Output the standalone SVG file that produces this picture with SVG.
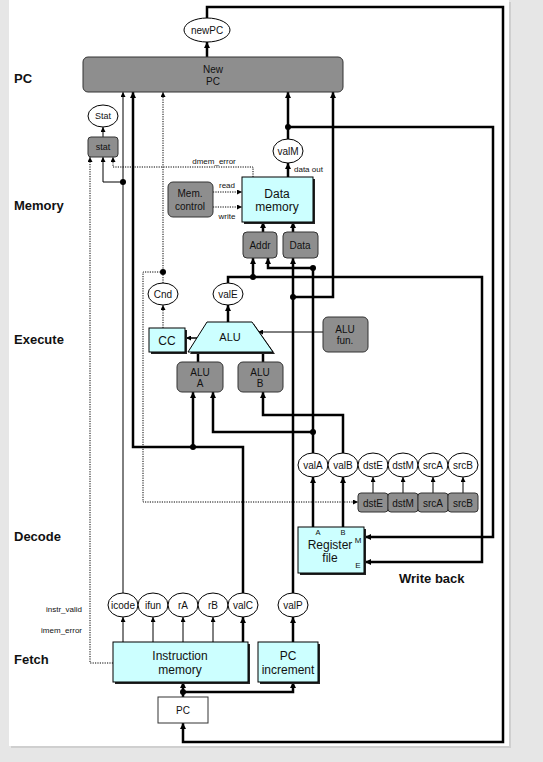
<svg xmlns="http://www.w3.org/2000/svg" width="543" height="762" viewBox="0 0 543 762">
<defs>
<marker id="a" viewBox="0 0 10 10" refX="10" refY="5" markerWidth="5" markerHeight="5" markerUnits="userSpaceOnUse" orient="auto"><path d="M0,0 L10,5 L0,10 z" fill="#000"/></marker>
<marker id="b" viewBox="0 0 10 10" refX="10" refY="5" markerWidth="6" markerHeight="6" markerUnits="userSpaceOnUse" orient="auto"><path d="M0,0 L10,5 L0,10 z" fill="#000"/></marker>
</defs>
<style>
text{font-family:"Liberation Sans",Arial,sans-serif;fill:#111;text-anchor:middle}
.stage{font-weight:bold;font-size:13px;text-anchor:start}
.t7{font-size:7.5px}.t8{font-size:8px}.t9{font-size:9px}.t10{font-size:10px}.t11{font-size:11px}.t12{font-size:12px}
.grey{fill:#8e8e8e;stroke:#333;stroke-width:1}
.cyan{fill:#ccffff;stroke:#000;stroke-width:1}
.sh{fill:#222}
.ell{fill:#fff;stroke:#000;stroke-width:1}
.thick{fill:none;stroke:#000;stroke-width:2.5;marker-end:url(#b)}
.thickn{fill:none;stroke:#000;stroke-width:2.5}
.thin{fill:none;stroke:#000;stroke-width:1;marker-end:url(#a)}
.med{fill:none;stroke:#000;stroke-width:1.5;marker-end:url(#a)}
.dot{fill:none;stroke:#000;stroke-width:1;stroke-dasharray:1.2,1.2;marker-end:url(#a)}
.jn{fill:#000}
</style>
<rect x="0" y="0" width="543" height="762" fill="#e6e6e6"/>
<rect x="11" y="2" width="500" height="746" fill="#cfcfcf"/>
<rect x="9" y="0" width="500" height="746" fill="#fff"/>

<g id="stages">
<text class="stage" x="14" y="83">PC</text>
<text class="stage" x="14" y="210">Memory</text>
<text class="stage" x="14" y="344">Execute</text>
<text class="stage" x="14" y="541">Decode</text>
<text class="stage" x="14" y="664">Fetch</text>
<text class="stage" x="399" y="583">Write back</text>
<text class="t8" x="82" y="612" style="text-anchor:end">instr_valid</text>
<text class="t8" x="82" y="633" style="text-anchor:end">imem_error</text>
<text class="t8" x="214" y="164">dmem_error</text>
<text class="t8" x="227" y="188">read</text>
<text class="t8" x="227" y="219">write</text>
<text class="t8" x="294" y="172" style="text-anchor:start">data out</text>
</g>

<g id="connectors">
<path class="thick" d="M207,18 L207,7 L503,7 L503,742 L183,742 L183,723"/>
<path class="thick" d="M207,57 L207,42"/>
<path class="thick" d="M288,139 L288,92"/>
<path class="thick" d="M288,127 L493,127 L493,537 L365,537"/>
<path class="thick" d="M288,177 L288,163"/>
<path class="thick" d="M243,593 L243,447 L133,447 L133,92"/>
<path class="thick" d="M193,447 L193,392"/>
<path class="thick" d="M243,642 L243,617"/>
<path class="thick" d="M313,453 L313,268 L268,268 L268,258"/>
<path class="thick" d="M313,432 L213,432 L213,392"/>
<path class="thick" d="M313,527 L313,477"/>
<path class="thick" d="M343,453 L343,415 L263,415 L263,392"/>
<path class="thick" d="M343,527 L343,477"/>
<path class="thick" d="M293,593 L293,258"/>
<path class="thick" d="M293,297 L333,297 L333,92"/>
<path class="thick" d="M293,642 L293,617"/>
<path class="thick" d="M228,283 L228,277 L482,277 L482,562 L365,562"/>
<path class="thick" d="M253,277 L253,258"/>
<path class="thick" d="M228,322 L228,305"/>
<path class="thick" d="M263,232 L263,222"/>
<path class="thick" d="M293,232 L293,222"/>
<path class="thickn" d="M198,362 L198,352 M263,362 L263,352"/>
<path class="thick" d="M183,697 L183,682"/>
<path class="thick" d="M183,692 L293,692 L293,682"/>
<path class="med" d="M199,338 L186,338"/>
<path class="thin" d="M123,593 L123,92"/>
<path class="thin" d="M123,182 L103,182 L103,157"/>
<path class="thin" d="M103,137 L103,127"/>
<path class="thin" d="M123,642 L123,617"/>
<path class="thin" d="M153,642 L153,617"/>
<path class="thin" d="M183,642 L183,617"/>
<path class="thin" d="M213,642 L213,617"/>
<path class="thin" d="M323,332 L258,332"/>
<path class="thin" d="M373,493 L373,477"/>
<path class="thin" d="M403,493 L403,477"/>
<path class="thin" d="M433,493 L433,477"/>
<path class="thin" d="M463,493 L463,477"/>
<path class="dot" d="M163,328 L163,305"/>
<path class="dot" d="M163,283 L163,92"/>
<path class="dot" d="M163,272 L143,272 L143,502 L358,502"/>
<path class="dot" d="M253,177 L253,167 L113,167 L113,157"/>
<path class="dot" d="M213,192 L242,192"/>
<path class="dot" d="M213,207 L242,207"/>
<path class="dot" d="M113,663 L90,663 L90,157"/>
<circle class="jn" cx="288" cy="127" r="3"/>
<circle class="jn" cx="193" cy="447" r="3"/>
<circle class="jn" cx="313" cy="432" r="3"/>
<circle class="jn" cx="313" cy="268" r="3"/>
<circle class="jn" cx="293" cy="297" r="3"/>
<circle class="jn" cx="253" cy="277" r="3"/>
<circle class="jn" cx="183" cy="692" r="3"/>
<circle class="jn" cx="123" cy="182" r="3"/>
<circle class="jn" cx="163" cy="272" r="3"/>
</g>

<g id="newPC"><ellipse class="ell" cx="207" cy="30" rx="23" ry="12"/><text class="t10" x="207" y="34">newPC</text></g>
<g id="NewPCbox"><rect class="grey" x="83" y="57" width="260" height="35" rx="5"/><text class="t10" x="213" y="73">New</text><text class="t10" x="213" y="85">PC</text></g>
<g id="Stat"><ellipse class="ell" cx="103" cy="116" rx="15" ry="11"/><text class="t9" x="103" y="119">Stat</text></g>
<g id="stat"><rect class="grey" x="88" y="137" width="30" height="20" rx="3"/><text class="t9" x="103" y="150">stat</text></g>
<g id="valM"><ellipse class="ell" cx="288" cy="151" rx="15" ry="12"/><text class="t10" x="288" y="155">valM</text></g>
<g id="memctl"><rect class="grey" x="168" y="182" width="45" height="35" rx="5"/><text class="t10" x="190" y="197">Mem.</text><text class="t10" x="190" y="210">control</text></g>
<g id="datamem"><rect class="sh" x="244" y="179" width="71" height="45"/><rect class="cyan" x="242" y="177" width="71" height="45"/><text class="t12" x="277" y="198">Data</text><text class="t12" x="277" y="211">memory</text></g>
<g id="Addr"><rect class="grey" x="243" y="232" width="34" height="26" rx="4"/><text class="t10" x="260" y="249">Addr</text></g>
<g id="Data"><rect class="grey" x="283" y="232" width="35" height="26" rx="4"/><text class="t10" x="300" y="249">Data</text></g>
<g id="Cnd"><ellipse class="ell" cx="163" cy="294" rx="15" ry="11"/><text class="t10" x="163" y="298">Cnd</text></g>
<g id="valE"><ellipse class="ell" cx="228" cy="294" rx="15" ry="11"/><text class="t10" x="228" y="298">valE</text></g>
<g id="CC"><rect class="sh" x="151" y="330" width="36" height="24"/><rect class="cyan" x="149" y="328" width="36" height="24"/><text class="t12" x="167" y="345">CC</text></g>
<g id="ALU"><polygon class="sh" points="209,324 254,324 275,354 190,354"/><polygon class="cyan" points="207,322 252,322 273,352 188,352"/><text class="t11" x="230" y="341">ALU</text></g>
<g id="ALUfun"><rect class="grey" x="323" y="317" width="45" height="35" rx="5"/><text class="t10" x="345" y="333">ALU</text><text class="t10" x="345" y="344">fun.</text></g>
<g id="ALUA"><rect class="grey" x="177" y="362" width="46" height="30" rx="5"/><text class="t10" x="200" y="376">ALU</text><text class="t10" x="200" y="387">A</text></g>
<g id="ALUB"><rect class="grey" x="238" y="362" width="45" height="30" rx="5"/><text class="t10" x="260" y="376">ALU</text><text class="t10" x="260" y="387">B</text></g>
<g id="decodeVals">
<ellipse class="ell" cx="313" cy="465" rx="15" ry="12"/><text class="t10" x="313" y="469">valA</text>
<ellipse class="ell" cx="343" cy="465" rx="15" ry="12"/><text class="t10" x="343" y="469">valB</text>
<ellipse class="ell" cx="373" cy="465" rx="15" ry="12"/><text class="t10" x="373" y="469">dstE</text>
<ellipse class="ell" cx="403" cy="465" rx="15" ry="12"/><text class="t10" x="403" y="469">dstM</text>
<ellipse class="ell" cx="433" cy="465" rx="15" ry="12"/><text class="t10" x="433" y="469">srcA</text>
<ellipse class="ell" cx="463" cy="465" rx="15" ry="12"/><text class="t10" x="463" y="469">srcB</text>
</g>
<g id="decodeBoxes">
<rect class="grey" x="358" y="493" width="30" height="19" rx="3"/><text class="t10" x="373" y="507">dstE</text>
<rect class="grey" x="388" y="493" width="30" height="19" rx="3"/><text class="t10" x="403" y="507">dstM</text>
<rect class="grey" x="418" y="493" width="30" height="19" rx="3"/><text class="t10" x="433" y="507">srcA</text>
<rect class="grey" x="448" y="493" width="30" height="19" rx="3"/><text class="t10" x="463" y="507">srcB</text>
</g>
<g id="regfile"><rect class="sh" x="300" y="529" width="66" height="46"/><rect class="cyan" x="298" y="527" width="66" height="46"/>
<text class="t7" x="318" y="535">A</text><text class="t7" x="343" y="535">B</text><text class="t8" x="358" y="543">M</text><text class="t8" x="358" y="568">E</text>
<text class="t12" x="330" y="549">Register</text><text class="t12" x="330" y="562">file</text></g>
<g id="fetchVals">
<ellipse class="ell" cx="123" cy="605" rx="15" ry="12"/><text class="t10" x="123" y="609">icode</text>
<ellipse class="ell" cx="153" cy="605" rx="15" ry="12"/><text class="t10" x="153" y="609">ifun</text>
<ellipse class="ell" cx="183" cy="605" rx="15" ry="12"/><text class="t10" x="183" y="609">rA</text>
<ellipse class="ell" cx="213" cy="605" rx="15" ry="12"/><text class="t10" x="213" y="609">rB</text>
<ellipse class="ell" cx="243" cy="605" rx="15" ry="12"/><text class="t10" x="243" y="609">valC</text>
<ellipse class="ell" cx="293" cy="605" rx="15" ry="12"/><text class="t10" x="293" y="609">valP</text>
</g>
<g id="imem"><rect class="sh" x="115" y="644" width="135" height="40"/><rect class="cyan" x="113" y="642" width="135" height="40"/><text class="t12" x="180" y="660">Instruction</text><text class="t12" x="180" y="674">memory</text></g>
<g id="pcinc"><rect class="sh" x="260" y="644" width="60" height="40"/><rect class="cyan" x="258" y="642" width="60" height="40"/><text class="t12" x="288" y="660">PC</text><text class="t12" x="288" y="674">increment</text></g>
<g id="PC"><rect x="158" y="697" width="50" height="26" fill="#fff" stroke="#333" stroke-width="1"/><text class="t10" x="183" y="714">PC</text></g>
</svg>
